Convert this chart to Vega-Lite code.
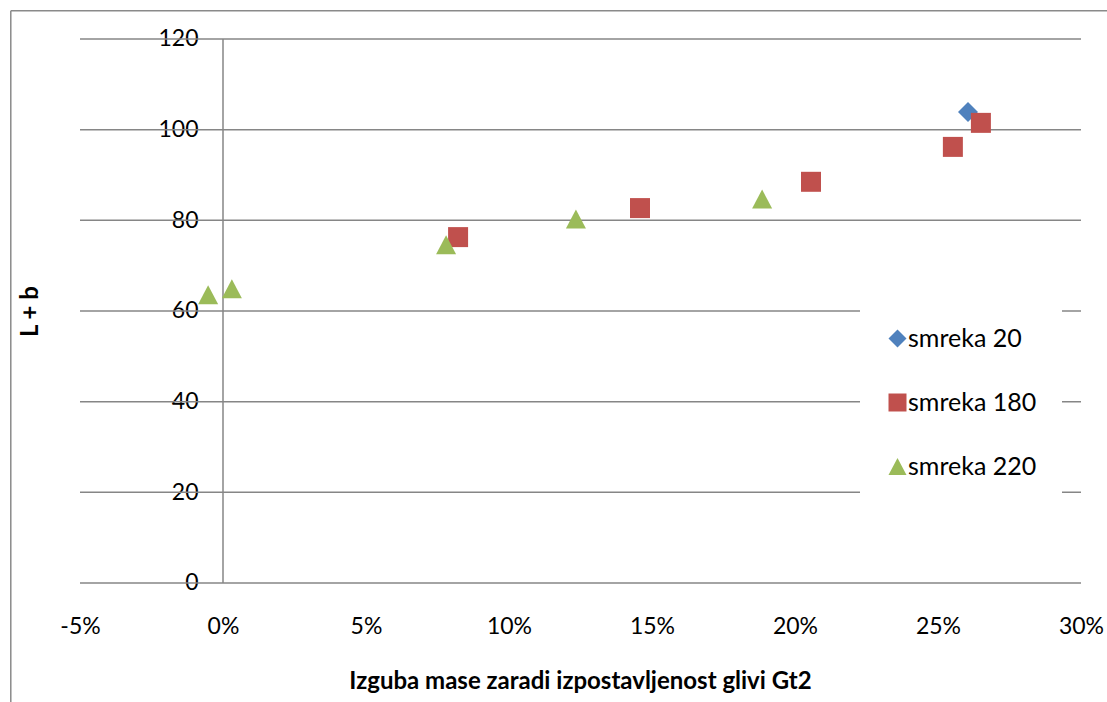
{
  "$schema": "https://vega.github.io/schema/vega-lite/v6.json",
  "width": 1097,
  "height": 692,
  "autosize": {"type": "none"},
  "padding": {"left": 10, "top": 10, "right": 0, "bottom": 0},
  "background": "white",
  "config": {
    "view": {"stroke": null},
    "font": "Lato",
    "axis": {
      "domain": false,
      "ticks": false,
      "grid": false,
      "labelFont": "Lato",
      "labelFontSize": 23,
      "labelColor": "black",
      "labelFlush": false,
      "labelOverlap": false,
      "labelBound": false,
      "titleFont": "Lato",
      "titleFontSize": 24,
      "titleFontWeight": "bold",
      "titleColor": "black",
      "titleAlign": "center",
      "titleBaseline": "middle"
    }
  },
  "datasets": {
    "meritve": [
      {"serija": "smreka 20", "izguba": 0.2605, "Lb": 103.9},
      {"serija": "smreka 180", "izguba": 0.0822, "Lb": 76.3},
      {"serija": "smreka 180", "izguba": 0.1458, "Lb": 82.7},
      {"serija": "smreka 180", "izguba": 0.2056, "Lb": 88.5},
      {"serija": "smreka 180", "izguba": 0.2552, "Lb": 96.2},
      {"serija": "smreka 180", "izguba": 0.2650, "Lb": 101.5},
      {"serija": "smreka 220", "izguba": -0.0052, "Lb": 63.6},
      {"serija": "smreka 220", "izguba": 0.0031, "Lb": 64.9},
      {"serija": "smreka 220", "izguba": 0.0780, "Lb": 74.6},
      {"serija": "smreka 220", "izguba": 0.1234, "Lb": 80.3},
      {"serija": "smreka 220", "izguba": 0.1885, "Lb": 84.7}
    ],
    "mreza": [
      {"Lb": 0}, {"Lb": 20}, {"Lb": 40}, {"Lb": 60}, {"Lb": 80}, {"Lb": 100}, {"Lb": 120}
    ],
    "okvir": [{"k": 1}]
  },
  "layer": [
    {
      "data": {"name": "mreza"},
      "mark": {"type": "rule", "color": "#868686", "strokeWidth": 1.5},
      "encoding": {
        "x": {"datum": -0.05, "type": "quantitative"},
        "x2": {"datum": 0.30},
        "y": {"field": "Lb", "type": "quantitative"}
      }
    },
    {
      "data": {"name": "okvir"},
      "mark": {"type": "rule", "color": "#868686", "strokeWidth": 1.5},
      "encoding": {
        "x": {"datum": 0, "type": "quantitative"},
        "y": {"datum": 0, "type": "quantitative"},
        "y2": {"datum": 120}
      }
    },
    {
      "data": {"name": "okvir"},
      "mark": {"type": "rule", "color": "#8a8a8a", "strokeWidth": 1.5},
      "encoding": {
        "x": {"datum": -0.0742, "type": "quantitative"},
        "x2": {"datum": 0.3091},
        "y": {"datum": 126.25, "type": "quantitative"}
      }
    },
    {
      "data": {"name": "okvir"},
      "mark": {"type": "rule", "color": "#8a8a8a", "strokeWidth": 1.5},
      "encoding": {
        "x": {"datum": -0.0742, "type": "quantitative"},
        "y": {"datum": 126.25, "type": "quantitative"},
        "y2": {"datum": -26.25}
      }
    },
    {
      "data": {"name": "meritve"},
      "mark": {"type": "point", "filled": true, "opacity": 1, "size": 400, "strokeWidth": 0},
      "encoding": {
        "x": {
          "field": "izguba",
          "type": "quantitative",
          "scale": {"domain": [-0.074476, 0.309091], "nice": false, "zero": false},
          "axis": {
            "title": "Izguba mase zaradi izpostavljenost glivi Gt2",
            "values": [-0.05, 0, 0.05, 0.1, 0.15, 0.2, 0.25, 0.3],
            "format": ".0%",
            "labelExpr": "replace(datum.label, '\u2212', '-')",
            "offset": -119,
            "labelPadding": 43,
            "labelBaseline": "middle",
            "titleX": 570,
            "titleY": 98
          }
        },
        "y": {
          "field": "Lb",
          "type": "quantitative",
          "scale": {"domain": [-26.25, 126.397], "nice": false, "zero": false},
          "axis": {
            "title": "L + b",
            "values": [0, 20, 40, 60, 80, 100, 120],
            "offset": -213,
            "labelPadding": 25,
            "titleAngle": 270,
            "titleX": -193,
            "titleY": 301
          }
        },
        "color": {
          "field": "serija",
          "type": "nominal",
          "scale": {
            "domain": ["smreka 20", "smreka 180", "smreka 220"],
            "range": ["#4F81BD", "#C0504D", "#9BBB59"]
          },
          "legend": {
            "title": null,
            "orient": "none",
            "legendX": 850,
            "legendY": 291,
            "fillColor": "white",
            "padding": 25,
            "symbolSize": 324,
            "symbolStrokeWidth": 0,
            "symbolOpacity": 1,
            "labelFont": "Lato",
            "labelFontSize": 25,
            "labelColor": "black",
            "labelOffset": -2,
            "rowPadding": 38
          }
        },
        "shape": {
          "field": "serija",
          "type": "nominal",
          "scale": {
            "domain": ["smreka 20", "smreka 180", "smreka 220"],
            "range": ["diamond", "square", "M0,-0.95L1,0.95L-1,0.95Z"]
          },
          "legend": {
            "title": null,
            "orient": "none",
            "legendX": 850,
            "legendY": 291,
            "fillColor": "white",
            "padding": 25,
            "symbolSize": 324,
            "symbolStrokeWidth": 0,
            "symbolOpacity": 1,
            "labelFont": "Lato",
            "labelFontSize": 25,
            "labelColor": "black",
            "labelOffset": -2,
            "rowPadding": 38
          }
        }
      }
    }
  ]
}
